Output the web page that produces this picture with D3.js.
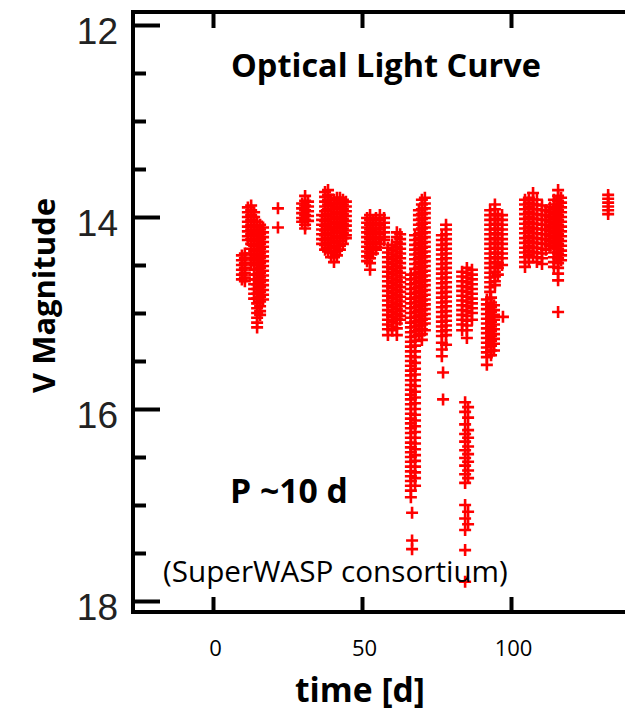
<!DOCTYPE html>
<html><head><meta charset="utf-8">
<script src="https://cdn.jsdelivr.net/npm/d3@7"></script>
<style>body{margin:0;background:#fff}svg{display:block}</style>
</head><body><svg id="c" width="625" height="711"></svg>
<script>
// ---- data ----
const yTickValues = [12, 14, 16, 18];
const yMinorTickValues = [12.5, 13, 13.5, 14.5, 15, 15.5, 16.5, 17, 17.5];
const xTickValues = [0, 50, 100];
const titleText = "Optical Light Curve";
const periodText = "P ~10 d";
const creditText = "(SuperWASP consortium)";
const xTitle = "time [d]";
const yTitle = "V Magnitude";

// observation times (days) and the magnitudes measured at each
const times = [9.7, 10.7, 11.7, 12.8, 13.8, 14.8, 15.8, 16.8, 21.8, 29.9, 30.9, 31.9,
  36.6, 37.6, 38.6, 39.6, 40.6, 41.6, 42.6, 43.6, 44.6,
  51.7, 52.7, 53.7, 54.7, 56.0, 57.4, 58.7, 60.1, 61.7, 62.8,
  66.4, 66.8, 67.8, 69.1, 70.1, 71.1, 76.8, 77.2, 78.2,
  83.6, 84.6, 85.2, 85.6, 86.9, 91.9, 93.0, 93.3, 94.3, 94.6, 95.6, 97.0, 97.3,
  104.7, 106.0, 107.4, 108.7, 110.4, 111.7, 113.1, 114.4, 115.8, 116.8, 132.6];

const magnitudes = [
  [14.40,14.45,14.50,14.55,14.60,14.65],
  [14.38,14.43,14.48,14.53,14.58,14.63,14.67],
  [13.90,13.95,14.00,14.05,14.10,14.15,14.20,14.24],
  [13.88,13.93,13.98,14.03,14.08,14.13,14.18,14.23,14.28,14.33,14.38,14.43,14.48],
  [13.95,14.00,14.05,14.10,14.15,14.20,14.25,14.30,14.35,14.40,14.45,14.50,14.55,14.60,14.65,14.70,14.75,14.80,14.85],
  [14.05,14.10,14.15,14.20,14.25,14.30,14.35,14.40,14.45,14.50,14.55,14.60,14.65,14.70,14.75,14.80,14.85,14.90,14.95,15.00,15.05,15.10,15.15],
  [14.08,14.13,14.18,14.23,14.28,14.33,14.38,14.43,14.48,14.53,14.58,14.63,14.68,14.73,14.78,14.83,14.88,14.93,14.98,15.02],
  [14.11,14.16,14.21,14.26,14.31,14.36,14.41,14.46,14.51,14.56,14.61,14.66,14.71,14.76,14.81,14.86],
  [13.91,14.11],
  [13.86,13.91,13.96,14.01,14.05],
  [13.78,13.83,13.88,13.93,13.98,14.03,14.08,14.12],
  [13.84,13.89,13.94,13.99,14.04],
  [13.98,14.03,14.08,14.13,14.18,14.23,14.28],
  [13.74,13.79,13.84,13.89,13.94,13.99,14.04,14.09,14.14,14.19,14.24,14.29,14.34],
  [13.72,13.77,13.82,13.87,13.92,13.97,14.02,14.07,14.12,14.17,14.22,14.27,14.32,14.36],
  [13.82,13.87,13.92,13.97,14.02,14.07,14.12,14.17,14.22,14.27,14.32,14.37,14.42],
  [13.82,13.87,13.92,13.97,14.02,14.07,14.12,14.17,14.22,14.27,14.32,14.37,14.42,14.47],
  [13.80,13.85,13.90,13.95,14.00,14.05,14.10,14.15,14.20,14.25,14.30,14.35,14.40],
  [13.80,13.85,13.90,13.95,14.00,14.05,14.10,14.15,14.20,14.25,14.30,14.34],
  [13.82,13.87,13.92,13.97,14.02,14.07,14.12,14.17,14.22,14.28],
  [13.84,13.89,13.94,13.99,14.04,14.09,14.14,14.19,14.22],
  [14.01,14.06,14.11,14.16,14.21,14.26,14.31,14.36,14.41,14.46],
  [13.98,14.03,14.08,14.13,14.18,14.23,14.28,14.33,14.38,14.43,14.48,14.55],
  [14.03,14.08,14.13,14.18,14.23,14.28,14.33,14.38],
  [14.01,14.06,14.11,14.16,14.21,14.26,14.31,14.34],
  [13.98,14.03,14.08,14.13,14.18,14.23,14.28],
  [14.01,14.06,14.11,14.16,14.21,14.24],
  [14.32,14.37,14.42,14.47,14.52,14.57,14.62,14.67,14.72,14.77,14.82,14.87,14.92,14.97,15.02,15.07,15.12,15.17,15.23],
  [14.29,14.34,14.39,14.44,14.49,14.54,14.59,14.64,14.69,14.74,14.79,14.84,14.89,14.94,14.99,15.04,15.09,15.14,15.18],
  [14.16,14.21,14.26,14.31,14.36,14.41,14.46,14.51,14.56,14.61,14.66,14.71,14.76,14.81,14.86,14.91,14.96,15.01,15.06,15.11,15.16,15.23],
  [14.18,14.23,14.28,14.33,14.38,14.43,14.48,14.53,14.58,14.63,14.68,14.73,14.78,14.83,14.88,14.93,14.98,15.03,15.07],
  [14.60,14.65,14.70,14.75,14.80,14.85,14.90,14.95,15.00,15.05,15.10,15.15,15.20,15.25,15.30,15.35,15.40,15.45,15.50,15.55,15.60,15.65,15.70,15.75,15.80,15.85,15.90,15.95,16.00,16.05,16.10,16.15,16.20,16.25,16.30,16.35,16.40,16.45,16.50,16.55,16.60,16.65,16.70,16.75,16.80,16.85,16.92],
  [17.08,17.37,17.46],
  [14.19,14.24,14.29,14.34,14.39,14.44,14.49,14.54,14.59,14.64,14.69,14.74,14.79,14.84,14.89,14.94,14.99,15.04,15.09,15.14,15.19,15.24,15.29,15.34,15.40,15.46,15.52,15.58,15.64,15.70,15.76,15.82,15.88,15.94,16.00,16.06,16.12,16.18,16.24,16.30,16.36,16.42,16.48,16.54,16.60,16.66,16.72,16.80],
  [13.93,13.98,14.03,14.08,14.13,14.18,14.23,14.28,14.33,14.38,14.43,14.48,14.53,14.58,14.63,14.68,14.73,14.78,14.83,14.88,14.93,14.98,15.03,15.08,15.13,15.18,15.23],
  [13.82,13.87,13.92,13.97,14.02,14.07,14.12,14.17,14.22,14.27,14.32,14.37,14.42,14.47,14.52,14.57,14.62,14.67,14.72,14.77,14.82,14.87,14.92,14.97,15.02,15.07,15.12,15.17,15.22,15.28],
  [13.80,13.86,13.91,13.96,14.01,14.06,14.11,14.16,14.21,14.26,14.31,14.36,14.41,14.46,14.51,14.56,14.61,14.66,14.71,14.76,14.81,14.86,14.91,14.96,15.01,15.06,15.11,15.18],
  [14.19,14.24,14.29,14.34,14.39,14.44,14.49,14.54,14.59,14.64,14.69,14.74,14.79,14.84,14.89,14.94,14.99,15.04,15.09,15.14,15.19,15.24,15.31,15.38,15.45],
  [15.62,15.90],
  [14.08,14.13,14.18,14.23,14.28,14.33,14.38,14.43,14.48,14.53,14.58,14.63,14.68,14.73,14.78,14.83,14.88,14.93,14.98,15.03,15.08,15.13,15.18,15.23,15.33],
  [14.57,14.62,14.67,14.72,14.77,14.82,14.87,14.92,14.97,15.02,15.07,15.12,15.18],
  [15.93,16.03,16.16,16.26,16.34,16.43,16.51,16.59,16.68,16.77,17.00,17.14,17.26,17.47,17.80],
  [14.53,14.58,14.63,14.68,14.73,14.78,14.83,14.88,14.93,14.98,15.03,15.08,15.13,15.18,15.26],
  [15.98,16.09,16.22,16.30,16.39,16.47,16.55,16.64,16.72,17.07,17.20],
  [14.55,14.60,14.65,14.70,14.75,14.80,14.85,14.90,14.95,15.00,15.07],
  [14.86,14.91,14.96,15.01,15.06,15.11,15.16,15.21,15.26,15.31,15.36,15.41,15.46,15.54],
  [13.93,13.98,14.03,14.08,14.13,14.18,14.23,14.28,14.33,14.38,14.43,14.48,14.53,14.58,14.63,14.68,14.73,14.78],
  [14.84,14.89,14.94,14.99,15.04,15.09,15.14,15.19,15.24,15.29,15.34,15.39,15.44],
  [14.92,14.97,15.02,15.07,15.12,15.17,15.22,15.27,15.32,15.39],
  [13.87,13.92,13.97,14.02,14.07,14.12,14.17,14.22,14.27,14.32,14.37,14.42,14.47,14.52,14.57,14.62,14.67,14.71],
  [13.98,14.03,14.08,14.13,14.18,14.23,14.28,14.33,14.38,14.43,14.48,14.53,14.60],
  [13.98,14.03,14.08,14.13,14.18,14.23,14.28,14.33,14.38,14.43,14.50],
  [15.04],
  [13.82,13.87,13.92,13.97,14.02,14.07,14.12,14.17,14.22,14.27,14.32,14.37,14.42,14.47,14.52],
  [13.80,13.85,13.90,13.95,14.00,14.05,14.10,14.15,14.20,14.25,14.30,14.35,14.40,14.47],
  [13.75,13.82,13.87,13.92,13.97,14.02,14.07,14.12,14.17,14.22,14.27,14.32,14.37,14.42],
  [13.82,13.87,13.92,13.97,14.02,14.07,14.12,14.17,14.22,14.27,14.32,14.37,14.42,14.47],
  [13.88,13.93,13.98,14.03,14.08,14.13,14.18,14.23,14.28,14.33,14.38,14.43,14.49],
  [13.93,13.98,14.03,14.08,14.13,14.18,14.23,14.28,14.34],
  [13.90,13.95,14.00,14.05,14.10,14.15,14.20,14.25,14.30],
  [13.82,13.87,13.92,13.97,14.02,14.07,14.12,14.17,14.22,14.27,14.32,14.37,14.42,14.47,14.52],
  [13.72,13.78,13.83,13.88,13.93,13.98,14.03,14.08,14.13,14.18,14.23,14.28,14.33,14.38,14.43,14.48,14.53,14.59,14.66,14.99],
  [13.80,13.85,13.90,13.95,14.00,14.05,14.10,14.15,14.20,14.25,14.30,14.35,14.40,14.45],
  [13.77,13.81,13.85,13.89,13.93,13.97]
];

// ---- drawing ----
const svg = d3.select("#c");
const W = 625;
const x = d3.scaleLinear().domain([0, 100]).range([213, 511]);
const y = d3.scaleLinear().domain([12, 18]).range([25, 601]);
const axisX = 133, topY = 12, botY = 612;

const points = [];
times.forEach((t, i) => magnitudes[i].forEach(m => points.push({t, m})));

// markers
svg.append("g").selectAll("path").data(points).join("path")
  .attr("transform", d => `translate(${x(d.t)},${y(d.m)})`)
  .attr("d", "M-6,0H6M0,-6V6")
  .attr("stroke", "#ff0000").attr("stroke-width", 2.6).attr("fill", "none");

// y major axis
const gy = svg.append("g").attr("transform", `translate(${axisX},0)`)
  .call(d3.axisLeft(y).tickValues(yTickValues).tickSize(-27).tickPadding(15).tickFormat(d3.format("d")));
gy.select(".domain").remove();
gy.selectAll(".tick line").attr("stroke", "#000").attr("stroke-width", 4);
gy.selectAll(".tick text").attr("dy", 18).attr("font-family", "'Liberation Sans', Arial, sans-serif")
  .attr("font-size", 37).attr("fill", "#222");

// y minor axis
const gym = svg.append("g").attr("transform", `translate(${axisX},0)`)
  .call(d3.axisLeft(y).tickValues(yMinorTickValues).tickSize(-13).tickFormat(() => ""));
gym.select(".domain").remove();
gym.selectAll(".tick line").attr("stroke", "#000").attr("stroke-width", 4);

// top axis ticks
const gt = svg.append("g").attr("transform", `translate(0,${topY})`)
  .call(d3.axisBottom(x).tickValues(xTickValues).tickSize(16).tickFormat(() => ""));
gt.select(".domain").remove();
gt.selectAll(".tick line").attr("stroke", "#000").attr("stroke-width", 4);

// bottom axis
const gb = svg.append("g").attr("transform", `translate(0,${botY})`)
  .call(d3.axisBottom(x).tickValues(xTickValues).tickSize(-15).tickFormat(d3.format("d")));
gb.select(".domain").remove();
gb.selectAll(".tick line").attr("stroke", "#000").attr("stroke-width", 4);
gb.selectAll(".tick text").attr("y", 44).attr("dy", 0).attr("dx", 2)
  .attr("font-family", "'Open Sans', sans-serif").attr("font-size", 22).attr("fill", "#000");

// frame lines
svg.append("path").attr("d", `M${axisX},${topY}V${botY}M${axisX - 2},${topY}H${W + 5}M${axisX - 2},${botY}H${W + 5}`)
  .attr("stroke", "#000").attr("stroke-width", 4).attr("fill", "none");

function fit(sel, w) {
  const len = sel.node().getComputedTextLength();
  const fs = parseFloat(sel.attr("font-size"));
  if (len > 0) sel.attr("font-size", fs * w / len);
  return sel;
}
const ff = "'Open Sans', 'DejaVu Sans', sans-serif";
fit(svg.append("text").attr("x", 231).attr("y", 77).attr("font-family", ff).attr("font-weight", "bold")
  .attr("font-size", 26).attr("fill", "#000").text(titleText), 310);
fit(svg.append("text").attr("x", 230).attr("y", 503).attr("font-family", ff).attr("font-weight", "bold")
  .attr("font-size", 24).attr("fill", "#000").text(periodText), 118);
fit(svg.append("text").attr("x", 163).attr("y", 582).attr("font-family", ff)
  .attr("font-size", 22).attr("fill", "#000").text(creditText), 345);
fit(svg.append("text").attr("x", 295).attr("y", 702).attr("font-family", ff).attr("font-weight", "bold")
  .attr("font-size", 26).attr("fill", "#000").text(xTitle), 130);
fit(svg.append("text").attr("transform", "translate(55,295.5) rotate(-90)").attr("text-anchor", "middle")
  .attr("font-family", ff).attr("font-weight", "bold")
  .attr("font-size", 24).attr("fill", "#000").text(yTitle), 195);
</script></body></html>
